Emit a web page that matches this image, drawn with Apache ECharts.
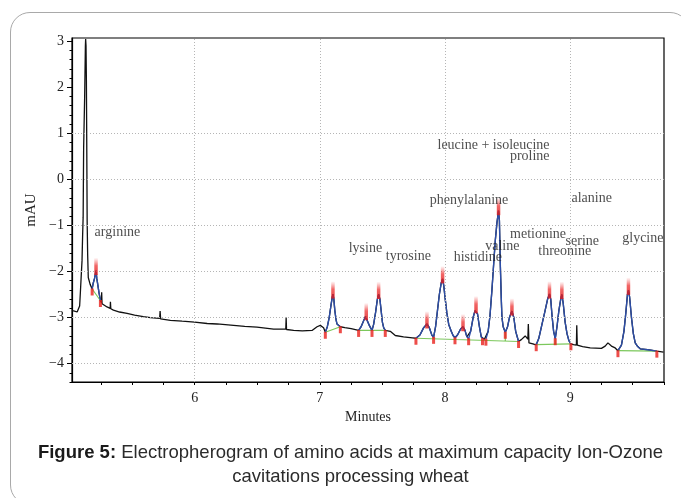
<!DOCTYPE html>
<html><head><meta charset="utf-8">
<script src="https://cdn.jsdelivr.net/npm/echarts@6/dist/echarts.min.js"></script>
<style>
html,body{margin:0;padding:0;background:#fff;}
#wrap{position:relative;width:681px;height:498px;overflow:hidden;}
#frame{position:absolute;left:10px;top:12px;width:680px;height:493px;border:1.3px solid #a9a9a9;border-radius:20px;box-sizing:border-box;}
#chart{position:absolute;left:0;top:0;width:681px;height:498px;}
#cap{position:absolute;left:10px;top:440px;width:681px;text-align:center;font-family:"Liberation Sans",Arial,sans-serif;font-size:18.5px;line-height:24px;color:#2b2b2b;white-space:nowrap;}
#cap b{color:#1a1a1a;}
</style></head><body>
<div id="wrap"><div id="frame"></div><div id="chart"></div>
<div id="cap"><b>Figure 5:</b> Electropherogram of amino acids at maximum capacity Ion-Ozone<br>cavitations processing wheat</div></div>
<script>
// detector trace [minutes, mAU]
const trace = [
[5.023,-2.85],[5.04,-2.86],[5.061,-2.88],[5.075,-2.84],[5.081,-2.75],[5.087,-2.45],[5.093,-2.13],[5.1,-1.77],[5.105,-1.2],[5.109,-0.82],[5.113,0.69],[5.121,1.78],[5.127,2.9],[5.129,3.05],[5.132,2.9],[5.135,2.14],[5.138,0.7],[5.141,-0.9],[5.145,-1.62],[5.15,-2.13],[5.165,-2.28],
[5.181,-2.38],[5.19,-2.25],[5.2,-2.15],[5.207,-2.05],[5.212,-1.98],[5.218,-2.15],[5.225,-2.27],[5.235,-2.45],[5.247,-2.63],
[5.255,-2.68],[5.257,-2.45],[5.26,-2.7],[5.3,-2.77],[5.325,-2.8],[5.327,-2.66],[5.33,-2.81],[5.351,-2.84],[5.4,-2.88],[5.46,-2.91],[5.52,-2.95],[5.59,-2.98],[5.647,-3.0],[5.72,-3.02],[5.724,-2.86],[5.728,-3.03],[5.806,-3.06],[5.9,-3.08],[6.0,-3.1],[6.1,-3.13],[6.179,-3.14],[6.311,-3.17],[6.4,-3.19],[6.498,-3.21],[6.631,-3.25],[6.728,-3.25],[6.731,-3.0],[6.734,-3.26],[6.791,-3.28],[6.86,-3.29],[6.938,-3.28],[6.978,-3.2],[7.004,-3.17],[7.03,-3.22],
[7.044,-3.32],[7.06,-3.2],[7.075,-3.0],[7.09,-2.72],[7.1,-2.55],[7.105,-2.49],[7.112,-2.6],[7.12,-2.85],[7.13,-3.05],[7.137,-3.14],[7.15,-3.18],[7.164,-3.2],
[7.2,-3.22],[7.25,-3.24],
[7.31,-3.28],[7.33,-3.2],[7.35,-3.07],[7.365,-2.98],[7.371,-2.96],[7.38,-3.02],[7.395,-3.17],[7.417,-3.28],
[7.43,-3.15],[7.445,-2.9],[7.46,-2.6],[7.47,-2.5],[7.48,-2.6],[7.49,-2.85],[7.5,-3.1],[7.51,-3.22],[7.523,-3.28],
[7.563,-3.3],[7.603,-3.39],[7.669,-3.42],[7.74,-3.44],
[7.768,-3.45],[7.8,-3.38],[7.83,-3.22],[7.856,-3.14],[7.875,-3.22],[7.895,-3.38],[7.909,-3.43],
[7.925,-3.2],[7.94,-2.85],[7.955,-2.5],[7.97,-2.25],[7.981,-2.16],[7.99,-2.3],[8.0,-2.55],[8.015,-2.9],[8.03,-3.15],[8.05,-3.3],[8.065,-3.39],[8.08,-3.44],
[8.1,-3.38],[8.125,-3.25],[8.144,-3.2],[8.16,-3.28],[8.175,-3.42],[8.189,-3.46],
[8.205,-3.3],[8.225,-3.0],[8.24,-2.85],[8.248,-2.81],[8.26,-2.92],[8.275,-3.2],[8.29,-3.42],[8.3,-3.46],
[8.315,-3.47],
[8.327,-3.47],[8.345,-3.3],[8.36,-2.95],[8.375,-2.41],[8.39,-1.8],[8.402,-1.33],[8.415,-0.95],[8.428,-0.68],[8.435,-0.9],[8.442,-1.83],[8.45,-2.6],[8.455,-2.99],[8.465,-3.2],[8.482,-3.32],
[8.5,-3.2],[8.515,-3.0],[8.535,-2.86],[8.55,-3.0],[8.565,-3.3],[8.588,-3.52],
[8.61,-3.48],[8.641,-3.4],[8.662,-3.47],[8.666,-3.14],[8.671,-3.55],[8.681,-3.57],[8.71,-3.58],
[8.729,-3.59],[8.75,-3.45],[8.775,-3.15],[8.8,-2.85],[8.82,-2.6],[8.835,-2.49],[8.845,-2.6],[8.855,-2.95],[8.868,-3.3],[8.881,-3.46],
[8.895,-3.2],[8.91,-2.85],[8.925,-2.6],[8.934,-2.5],[8.945,-2.7],[8.96,-3.1],[8.975,-3.35],[8.99,-3.5],[9.006,-3.57],
[9.027,-3.59],[9.05,-3.6],[9.053,-3.17],[9.057,-3.6],[9.1,-3.63],[9.16,-3.66],[9.25,-3.67],[9.28,-3.62],[9.302,-3.55],[9.33,-3.62],[9.36,-3.66],
[9.382,-3.72],[9.41,-3.6],[9.43,-3.3],[9.445,-2.9],[9.458,-2.5],[9.466,-2.41],[9.475,-2.55],[9.49,-3.0],[9.505,-3.35],[9.52,-3.55],[9.54,-3.63],[9.56,-3.68],[9.62,-3.7],[9.693,-3.73],
[9.746,-3.75]
];
// integrated peaks (minutes)
const peakStart = [5.181, 7.044, 7.31, 7.417, 7.768, 7.909, 8.08, 8.189, 8.327, 8.482, 8.729, 8.881, 9.382];
const peakApex  = [5.212, 7.105, 7.371, 7.47, 7.856, 7.981, 8.144, 8.248, 8.428, 8.535, 8.835, 8.934, 9.466];
const peakEnd   = [5.247, 7.164, 7.417, 7.523, 7.909, 8.08, 8.189, 8.3, 8.482, 8.588, 8.881, 9.006, 9.693];
// baseline groups (minutes)
const baseStart = [5.181, 7.044, 7.31, 7.768, 8.729, 9.382];
const baseEnd   = [5.247, 7.164, 7.523, 8.588, 9.006, 9.693];
// peak name annotations
const labelNames = ['arginine','lysine','tyrosine','phenylalanine','histidine','valine','leucine + isoleucine','proline','metionine','threonine','serine','alanine','glycine'];
const labelTime  = [5.383, 7.364, 7.707, 8.192, 8.262, 8.458, 8.388, 8.677, 8.744, 8.957, 9.097, 9.172, 9.581];
const labelMAU   = [-1.16, -1.50, -1.68, -0.46, -1.70, -1.46, 0.75, 0.49, -1.20, -1.57, -1.35, -0.42, -1.29];
// axis ticks
const xTickLabels = [6, 7, 8, 9];
const xMinorTicks = [5.25,5.5,5.75,6,6.25,6.5,6.75,7,7.25,7.5,7.75,8,8.25,8.5,8.75,9,9.25,9.5,9.75];
const yTickLabels = [-4, -3, -2, -1, 0, 1, 2, 3];
const yMinorTicks = [-4.4,-4.2,-4,-3.8,-3.6,-3.4,-3.2,-3,-2.8,-2.6,-2.4,-2.2,-2,-1.8,-1.6,-1.4,-1.2,-1,-0.8,-0.6,-0.4,-0.2,0,0.2,0.4,0.6,0.8,1,1.2,1.4,1.6,1.8,2,2.2,2.4,2.6,2.8,3];
const xGridValues = [6, 7, 8, 9];
const yGridValues = [-4, -3, -2, -1, 0, 1];

function valAt(t){
  for (let i=0;i<trace.length-1;i++){
    const a=trace[i], b=trace[i+1];
    if (Math.abs(a[0]-t)<1e-9) return a[1];
    if (t>a[0] && t<b[0]) return a[1]+(b[1]-a[1])*(t-a[0])/(b[0]-a[0]);
  }
  return trace[trace.length-1][1];
}
const blue = [];
peakStart.forEach((s,i)=>{
  trace.forEach(p=>{ if (p[0]>=s-1e-9 && p[0]<=peakEnd[i]+1e-9) blue.push(p); });
  blue.push(null);
});
const green = [];
baseStart.forEach((s,i)=>{
  const e=baseEnd[i], vs=valAt(s), ve=valAt(e);
  green.push([s,vs],[e,ve],null);
  peakEnd.forEach(t=>{
    if (t>s+1e-9 && t<e-1e-9 && peakStart.some(u=>Math.abs(u-t)<1e-9)){
      const bl = vs+(ve-vs)*(t-s)/(e-s);
      green.push([t,valAt(t)],[t,bl],null);
    }
  });
});
const bounds = [];
peakStart.concat(peakEnd).forEach(t=>{ if(!bounds.some(b=>Math.abs(b-t)<1e-9)) bounds.push(t); });
const boundPts = bounds.map(t=>[t,valAt(t)]);
const apexPts = peakApex.map(t=>[t,valAt(t)]);
const labelPts = labelNames.map((n,i)=>({name:n, value:[labelTime[i], labelMAU[i]]}));

const serif = '"Liberation Serif","DejaVu Serif",serif';
const fmt = v => (v<0 ? '\u2212'+Math.abs(v) : String(v));
const chart = echarts.init(document.getElementById('chart'));
chart.setOption({
  animation:false,
  backgroundColor:'transparent',
  grid:{left:72,right:17,top:38,bottom:116,show:true,borderColor:'#000',borderWidth:1.2,backgroundColor:'transparent'},
  xAxis:{type:'value',min:5.02,max:9.75,
    axisLine:{show:true,onZero:false,lineStyle:{color:'#000',width:1.2}},
    axisTick:{show:true,customValues:xMinorTicks,length:3,lineStyle:{color:'#000'}},
    axisLabel:{customValues:xTickLabels,fontFamily:serif,fontSize:14,color:'#222',margin:9},
    splitLine:{show:false},
    name:'Minutes',nameLocation:'middle',nameGap:24,nameTextStyle:{fontFamily:serif,fontSize:14,color:'#222'}},
  yAxis:[
    {type:'value',min:-4.4,max:3.07,position:'left',
     axisLine:{show:true,onZero:false,lineStyle:{color:'#000',width:1.2}},
     axisTick:{show:true,customValues:yTickLabels,length:5,lineStyle:{color:'#000'}},
     axisLabel:{customValues:yTickLabels,formatter:fmt,fontFamily:serif,fontSize:14,color:'#222',margin:8},
     splitLine:{show:false},
     name:'mAU',nameLocation:'middle',nameGap:28,nameTextStyle:{fontFamily:serif,fontSize:15,color:'#222'}},
    {type:'value',min:-4.4,max:3.07,position:'left',offset:0,
     axisLine:{show:false},
     axisTick:{show:true,customValues:yMinorTicks,length:2.5,lineStyle:{color:'#000'}},
     axisLabel:{show:false},splitLine:{show:false}}
  ],
  series:[
    {type:'line',data:[],z:1,silent:true,
     markLine:{silent:true,symbol:'none',label:{show:false},animation:false,
       lineStyle:{color:'#b5b5b5',type:[1,2],width:1},
       data:yGridValues.map(v=>({yAxis:v})).concat(xGridValues.map(v=>({xAxis:v})))}},
    {type:'line',data:trace,showSymbol:false,z:2,lineStyle:{color:'#111',width:1.3},itemStyle:{color:'#111'}},
    {type:'line',data:green,showSymbol:false,connectNulls:false,z:3,lineStyle:{color:'#7cc85c',width:1.2}},
    {type:'line',data:blue,showSymbol:false,connectNulls:false,z:4,lineStyle:{color:'#2d4ea8',width:1.4}},
    {type:'scatter',data:boundPts,z:5,symbol:'rect',symbolSize:[3,7],symbolOffset:[0,3],itemStyle:{color:'#e8201c'}},
    {type:'scatter',data:apexPts,z:5,symbol:'rect',symbolSize:[3.5,17],symbolOffset:[0,-4],
     itemStyle:{color:new echarts.graphic.LinearGradient(0,0,0,1,[{offset:0,color:'rgba(240,60,60,0.05)'},{offset:0.45,color:'rgba(235,30,30,0.85)'},{offset:1,color:'#e01818'}])}},
    {type:'scatter',data:labelPts,z:6,symbolSize:1,itemStyle:{color:'rgba(0,0,0,0)'},
     label:{show:true,position:'inside',formatter:'{b}',fontFamily:serif,fontSize:14,color:'#222'}}
  ]
});
</script>
</body></html>
